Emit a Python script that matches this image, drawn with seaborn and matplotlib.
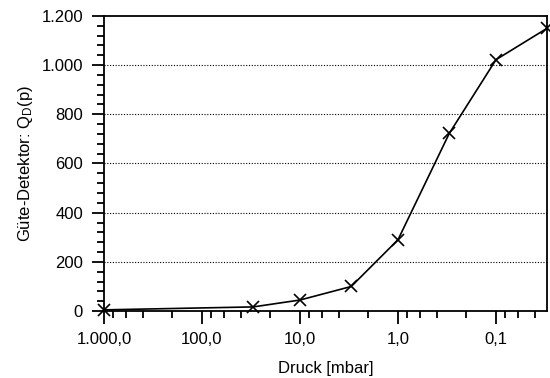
import matplotlib
matplotlib.use("Agg")
import matplotlib.pyplot as plt
import matplotlib.ticker as mticker
import pandas as pd
import seaborn as sns

# Daten
druck = [1000, 30, 10, 3, 1, 0.3, 0.1, 0.03]
guete = [5, 17, 45, 100, 290, 722, 1022, 1150]

x_ticks = [1000, 100, 10, 1, 0.1]
x_labels = ["1.000,0", "100,0", "10,0", "1,0", "0,1"]
y_ticks = [0, 200, 400, 600, 800, 1000, 1200]
y_labels = ["0", "200", "400", "600", "800", "1.000", "1.200"]

df = pd.DataFrame({"druck": druck, "guete": guete})

sns.set_style("ticks")
plt.rcParams["font.family"] = ["Liberation Sans", "DejaVu Sans"]
plt.rcParams["mathtext.default"] = "regular"

fig = plt.figure(figsize=(5.5, 3.78), dpi=100)
ax = fig.add_axes([0.189, 0.177, 0.806, 0.781])

sns.lineplot(
    data=df,
    x="druck",
    y="guete",
    marker="x",
    markersize=9,
    markeredgewidth=1.2,
    markeredgecolor="black",
    color="black",
    linewidth=1.2,
    sort=False,
    clip_on=False,
    zorder=5,
    ax=ax
)

ax.set_xscale("log")
ax.set_xlim(1000, 0.03)
ax.set_ylim(0, 1200)

ax.set_xticks(x_ticks)
ax.set_xticklabels(x_labels)
ax.xaxis.set_minor_locator(mticker.LogLocator(base=10, subs=[2, 4, 6, 8]))
ax.xaxis.set_minor_formatter(mticker.NullFormatter())

ax.set_yticks(y_ticks)
ax.set_yticklabels(y_labels)
ax.yaxis.set_minor_locator(mticker.MultipleLocator(40))

# gepunktete Hilfslinien
for y in [200, 400, 600, 800, 1000]:
    ax.axhline(y, color="black", linestyle=(0, (1, 1.5)), linewidth=0.8, zorder=0)

ax.tick_params(axis="both", which="major", direction="out", length=9,
               width=1.3, labelsize=12, colors="black", pad=6)
ax.tick_params(axis="both", which="minor", direction="out", length=5,
               width=1.3, colors="black")

for side in ["left", "bottom", "right", "top"]:
    ax.spines[side].set_visible(True)
    ax.spines[side].set_color("black")
    ax.spines[side].set_linewidth(1.3)

ax.set_xlabel("Druck [mbar]", fontsize=12, labelpad=10, color="black")
ax.set_ylabel("Güte-Detektor: Q$_D$(p)", fontsize=12, labelpad=5, color="black")

fig.savefig("out.png", dpi=100)
